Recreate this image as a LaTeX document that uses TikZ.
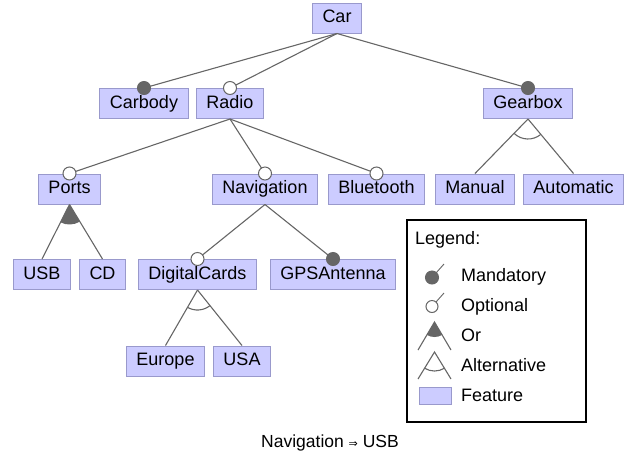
\documentclass[tikz,border=0pt]{standalone}
\usepackage{fontspec}
\setmainfont{Liberation Sans}
\newfontfamily\symfont{DejaVu Sans}
\usetikzlibrary{calc}
\definecolor{featfill}{HTML}{CCCCFF}
\definecolor{featborder}{HTML}{9999CC}
\definecolor{edgecol}{HTML}{666666}
\tikzset{
  feat/.style={draw=featborder, fill=featfill, line width=1pt, minimum height=30pt,
    inner xsep=10pt, inner ysep=0pt, text height=13pt, text depth=4pt,
    font=\fontsize{18}{20}\selectfont},
  edge/.style={draw=edgecol, line width=1.1pt},
  mand/.style={fill=edgecol, draw=edgecol, line width=1pt},
  opt/.style={fill=white, draw=edgecol, line width=1pt},
  ltext/.style={anchor=west, inner sep=0pt, font=\fontsize{18}{20}\selectfont}
}
\newcommand{\mandedge}[2]{\draw[edge] (#1.south) -- (#2.north); \filldraw[mand] (#2.north) circle[radius=6.5pt];}
\newcommand{\optedge}[2]{\draw[edge] (#1.south) -- (#2.north); \filldraw[opt] (#2.north) circle[radius=6.5pt];}
\newcommand{\grpedge}[3]{\draw[edge] (#1.south) -- (#2.north); \draw[edge] (#1.south) -- (#3.north);}
\newcommand{\orarc}[3]{\fill[edgecol] let \p1=($(#2.north)-(#1.south)$), \p2=($(#3.north)-(#1.south)$),
   \n1={atan2(\y1,\x1)}, \n2={atan2(\y2,\x2)} in
   (#1.south) -- ++(\n1:20pt) arc[start angle=\n1, end angle=\n2, radius=20pt] -- cycle;}
\newcommand{\altarc}[3]{\draw[edge] let \p1=($(#2.north)-(#1.south)$), \p2=($(#3.north)-(#1.south)$),
   \n1={atan2(\y1,\x1)}, \n2={atan2(\y2,\x2)} in
   ($(#1.south)+(\n1:20pt)$) arc[start angle=\n1, end angle=\n2, radius=20pt];}
\begin{document}
\begin{tikzpicture}[x=1pt, y=-1pt]
\useasboundingbox (0,0) rectangle (629,459);
% features
\node[feat] (car) at (337,18) {Car};
\node[feat] (carbody) at (144,103.5) {Carbody};
\node[feat] (radio) at (230,103.5) {Radio};
\node[feat] (gearbox) at (528,103.5) {Gearbox};
\node[feat] (ports) at (69.5,189) {Ports};
\node[feat] (nav) at (265,189) {Navigation};
\node[feat] (bt) at (376.5,189) {Bluetooth};
\node[feat] (manual) at (475,189) {Manual};
\node[feat] (auto) at (573.5,189) {Automatic};
\node[feat] (usb) at (42,274.5) {USB};
\node[feat] (cd) at (102.5,274.5) {CD};
\node[feat] (dc) at (197.5,274.5) {DigitalCards};
\node[feat] (gps) at (333,274.5) {GPSAntenna};
\node[feat] (europe) at (165.5,361) {Europe};
\node[feat] (usa) at (242,361) {USA};
% edges
\mandedge{car}{carbody}
\optedge{car}{radio}
\mandedge{car}{gearbox}
\optedge{radio}{ports}
\optedge{radio}{nav}
\optedge{radio}{bt}
\optedge{nav}{dc}
\mandedge{nav}{gps}
\grpedge{gearbox}{manual}{auto}
\altarc{gearbox}{manual}{auto}
\grpedge{ports}{usb}{cd}
\orarc{ports}{usb}{cd}
\grpedge{dc}{europe}{usa}
\altarc{dc}{europe}{usa}
% legend
\node[draw=black, line width=1.2pt, minimum width=179pt, minimum height=202pt, inner sep=0pt] (legend) at (496.5,321) {};
\node[ltext] (lgtitle) at (415,240) {Legend:};
\coordinate (mc) at (432,277.5);
\coordinate (mt) at (444,264);
\draw[edge, line width=0.9pt] (mc) -- (mt);
\filldraw[mand] (mc) circle[radius=6.5pt];
\node[ltext] (lmand) at (461,277) {Mandatory};
\coordinate (oc) at (432,306.5);
\coordinate (ot) at (444,293);
\draw[edge, line width=0.9pt] (oc) -- (ot);
\filldraw[opt] (oc) circle[radius=6pt];
\node[ltext] (lopt) at (461,307) {Optional};
\coordinate (ora) at (434.5,322);
\coordinate (orl) at (418,350);
\coordinate (orr) at (451,350);
\draw[edge] (orl) -- (ora) -- (orr);
\fill[edgecol] (ora) -- ($(ora)!15pt!(orl)$) arc[start angle=-120.5, end angle=-59.5, radius=15pt] -- cycle;
\node[ltext] (lor) at (461,335) {Or};
\coordinate (ala) at (434.5,352);
\coordinate (all) at (418,379);
\coordinate (alr) at (451,379);
\draw[edge] (all) -- (ala) -- (alr);
\draw[edge] ($(ala)!19pt!(all)$) arc[start angle=-121.5, end angle=-58.5, radius=19pt];
\node[ltext] (lalt) at (461,365) {Alternative};
\node[draw=featborder, fill=featfill, line width=1pt, minimum width=32pt, minimum height=17pt, inner sep=0pt] (lfeat) at (435,395.5) {};
\node[ltext] (lfeattxt) at (461,395) {Feature};
% constraint
\node[inner sep=0pt, font=\fontsize{17.5}{20}\selectfont] (cons) at (330,443) {Navigation {\symfont\fontsize{11}{12}\selectfont ⇒} USB};
\end{tikzpicture}
\end{document}
